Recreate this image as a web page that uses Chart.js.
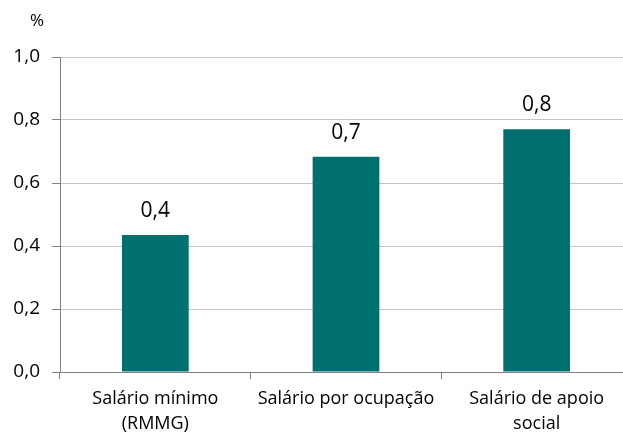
<!DOCTYPE html>
<html>
<head>
<meta charset="utf-8">
<script src="https://cdn.jsdelivr.net/npm/chart.js@4"></script>
<style>
    html, body { margin: 0; padding: 0; background: #fff; overflow: hidden; }
    #wrap { width: 623px; height: 432px; overflow: hidden; }
</style>
</head>
<body>
<div id="wrap"><canvas id="barChart" width="632" height="432"></canvas></div>
<script>
const categories = [['Salário mínimo', '(RMMG)'], 'Salário por ocupação', ['Salário de apoio', 'social']];
const values = [0.435, 0.683, 0.771];
const yTicks = [0, 0.2, 0.4, 0.6, 0.8, 1.0];

const fmt = v => v.toFixed(1).replace('.', ',');
const FONT = '"Open Sans", "Liberation Sans", sans-serif';

// Value labels above bars + the "%" unit at top left
const labelPlugin = {
    id: 'barLabels',
    afterDatasetsDraw(chart) {
        const ctx = chart.ctx;
        ctx.save();
        ctx.fillStyle = '#000';
        ctx.font = '21px ' + FONT;
        ctx.textAlign = 'center';
        ctx.textBaseline = 'alphabetic';
        chart.getDatasetMeta(0).data.forEach((bar, i) => {
            ctx.fillText(fmt(values[i]), bar.x, bar.y - 18);
        });
        ctx.font = '17px ' + FONT;
        ctx.fillText('%', 37, 26);
        ctx.restore();
    }
};

new Chart(document.getElementById('barChart'), {
    type: 'bar',
    data: {
        labels: categories,
        datasets: [{
            data: values,
            backgroundColor: '#006f6f',
            barPercentage: 0.35,
            categoryPercentage: 1
        }]
    },
    options: {
        responsive: false,
        animation: false,
        layout: { padding: { top: 57, right: 0, left: 0, bottom: 0 } },
        plugins: { legend: { display: false }, tooltip: { enabled: false } },
        scales: {
            x: {
                afterFit: axis => { axis.height = 60; },
                grid: { drawOnChartArea: false, drawTicks: true, tickLength: 7, tickColor: '#808080', offset: true },
                border: { color: '#808080', width: 1 },
                ticks: { color: '#000', font: { family: FONT, size: 18, lineHeight: 1.35 }, maxRotation: 0, padding: 8 }
            },
            y: {
                min: 0,
                max: 1,
                afterFit: axis => { axis.width = 60; },
                afterBuildTicks: axis => { axis.ticks = yTicks.map(v => ({ value: v })); },
                grid: { color: '#c4c4c4', tickColor: '#808080', tickLength: 8, lineWidth: 1 },
                border: { color: '#808080', width: 1 },
                ticks: { color: '#000', font: { family: FONT, size: 19 }, padding: 12, callback: v => fmt(v) }
            }
        }
    },
    plugins: [labelPlugin]
});
</script>
</body>
</html>
